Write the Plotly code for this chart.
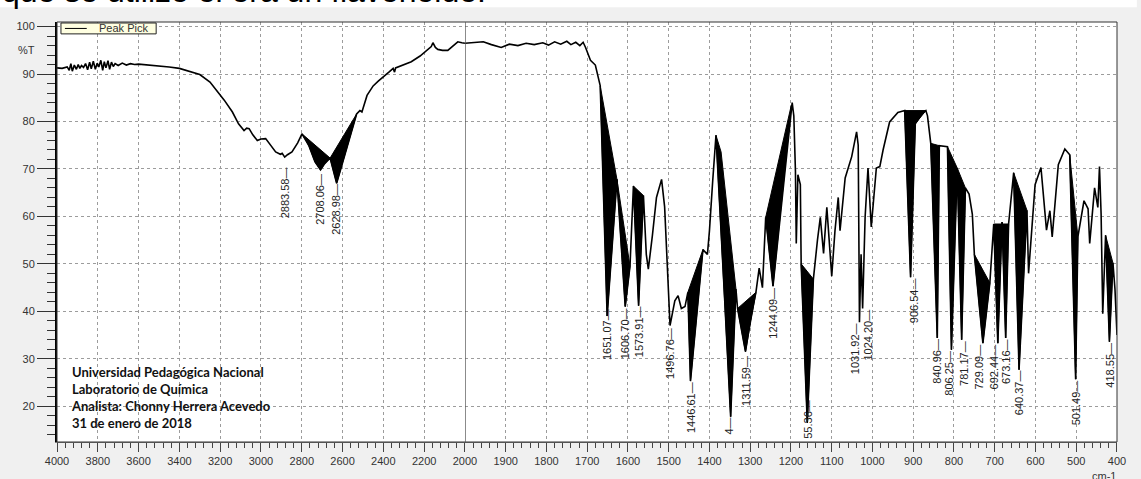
import plotly.graph_objects as go

# ---------------- data ----------------
left_wn = [4000, 3975, 3950, 3940, 3932, 3925, 3915, 3905, 3896, 3888, 3880, 3870, 3860, 3850,
           3840, 3832, 3822, 3812, 3803, 3795, 3785, 3776, 3768, 3760, 3750, 3742, 3733, 3724,
           3715, 3700, 3680, 3660, 3640, 3620, 3600, 3550, 3500, 3450, 3400, 3350, 3300, 3250,
           3220, 3180, 3140, 3110, 3083, 3070, 3058, 3040, 3018, 3000, 2977, 2950, 2928, 2905,
           2896, 2883.58, 2870, 2848, 2820, 2799, 2766, 2735, 2708.06, 2690, 2661, 2628.98,
           2531, 2515, 2505, 2480, 2450, 2425, 2400, 2370, 2352, 2345, 2340, 2300, 2263, 2220,
           2182, 2165, 2157, 2145, 2133, 2110, 2084, 2060, 2035, 2015, 2000]
left_t = [91.3, 91.2, 91.5, 90.8, 92.2, 90.6, 91.9, 91.0, 92.0, 91.2, 91.8, 91.4, 92.2, 90.9,
          92.5, 91.1, 92.7, 91.0, 92.3, 91.5, 92.9, 90.8, 92.6, 91.3, 92.8, 91.0, 92.5, 91.6,
          92.2, 91.8, 92.3, 91.9, 92.2, 92.0, 92.1, 91.9, 91.8, 91.5, 91.2, 90.6, 89.9, 88.3,
          86.7, 84.5, 82.0, 79.5, 78.1, 78.6, 78.5, 77.2, 76.0, 76.3, 76.4, 74.8, 73.6, 73.1,
          73.3, 72.5, 73.0, 73.6, 75.5, 77.4, 75.0, 71.5, 69.8, 71.0, 72.3, 67.0,
          81.6, 82.3, 82.0, 85.5, 87.5, 88.5, 89.5, 90.5, 91.2, 90.4, 91.3, 92.0, 92.6, 93.8,
          95.2, 95.8, 96.6, 95.6, 95.2, 95.0, 95.0, 95.8, 96.8, 96.6, 96.5]

right_wn = [2000, 1980, 1955, 1935, 1911, 1891, 1870, 1850, 1830, 1809, 1795, 1780, 1765, 1750,
            1740, 1728, 1718, 1710, 1704, 1692, 1680, 1668, 1651.07, 1627, 1606.70, 1595, 1586.6,
            1573.91, 1562, 1555, 1550, 1540, 1530, 1517.5, 1510, 1496.76, 1485, 1477, 1469, 1460,
            1453, 1446.61, 1416, 1405, 1400, 1392, 1384, 1363, 1348, 1335, 1331, 1311.59, 1300,
            1286, 1278, 1270, 1262, 1244.09, 1199, 1197, 1193, 1189, 1187, 1183, 1177, 1175, 1160,
            1145, 1135, 1128, 1120, 1112, 1100, 1092, 1084, 1079.6, 1067, 1051, 1039, 1035, 1031.92,
            1028, 1024.20, 1018, 1011, 1003, 990.5, 982, 974, 958, 937.7, 921, 906.54, 895, 880,
            869, 865, 857, 840.96, 836, 816, 806.25, 792, 781.17, 772, 763, 755, 750, 729.09, 712,
            702.5, 692.44, 682, 673.16, 666, 653.6, 640.37, 621, 617, 601, 586.6, 573, 564.7, 559,
            544, 528, 516, 501.49, 496, 481, 471, 467, 455, 447, 443, 439, 435, 428, 418.55, 410,
            405, 400]
right_t = [96.5, 96.7, 96.8, 96.2, 95.6, 96.3, 96.0, 96.5, 96.2, 96.6, 96.1, 96.8, 96.3, 96.9,
           96.2, 96.7, 96.0, 96.7, 95.6, 92.9, 91.9, 87.5, 39.0, 67.8, 41.0, 49.5, 66.4,
           41.2, 64.4, 52.0, 48.9, 56.0, 64.0, 67.8, 62.0, 37.0, 42.2, 43.3, 40.6, 41.0,
           44.0, 25.3, 53.0, 52.0, 57.0, 67.5, 77.1, 43.0, 17.8, 44.7, 40.6, 31.5, 38.0,
           44.0, 49.1, 45.0, 59.8, 45.3, 83.5, 84.0, 81.2, 69.5, 54.3, 68.8, 66.7, 50.0, 16.5,
           46.8, 55.0, 59.8, 52.2, 61.9, 47.4, 57.0, 64.0, 57.0, 68.1, 72.6, 77.8, 75.0, 37.7,
           52.0, 40.6, 60.0, 70.2, 57.8, 70.2, 70.5, 74.0, 79.9, 81.9, 82.3, 47.2, 79.5, 81.5,
           82.3, 81.2, 75.4, 34.4, 74.9, 74.7, 31.9, 70.2, 34.0, 66.0, 64.7, 60.5, 52.0, 33.3, 46.0,
           58.4, 33.3, 58.8, 34.4, 58.4, 69.2, 27.7, 61.3, 48.0, 66.7, 70.3, 57.1, 61.2, 55.7,
           70.9, 74.2, 73.0, 25.7, 55.7, 63.3, 61.6, 54.3, 66.0, 61.9, 70.5, 60.5, 39.5, 56.0, 33.6, 50.2,
           44.7, 35.0]

# dense (black-filled) absorption regions: polygons of (wavenumber, %T)
left_fills = [
    [(2799, 77.4), (2766, 75.0), (2735, 71.5), (2708.06, 69.8), (2690, 71.0), (2661, 72.3)],
    [(2661, 72.3), (2628.98, 67.0), (2531, 81.6)],
]
right_fills = [
    [(1668, 87.5), (1651.07, 39.0), (1627, 67.8)],
    [(1627, 67.8), (1606.70, 41.0), (1595, 49.5)],
    [(1586.6, 66.4), (1573.91, 41.2), (1562, 64.4)],
    [(1453, 44.0), (1446.61, 25.3), (1416, 53.0)],
    [(1384, 77.1), (1363, 43.0), (1348, 17.8), (1335, 44.7), (1371.5, 73.6)],
    [(1331, 40.6), (1311.59, 31.5), (1286, 44.0)],
    [(1262, 59.8), (1244.09, 45.3), (1199, 83.5)],
    [(1175, 50.0), (1160, 16.5), (1145, 46.8)],
    [(921, 82.3), (906.54, 47.2), (895, 79.5), (869, 82.3)],
    [(857, 75.4), (840.96, 34.4), (836, 74.9)],
    [(816, 74.7), (806.25, 31.9), (792, 70.2)],
    [(792, 70.2), (781.17, 34.0), (772, 66.0)],
    [(750, 52.0), (729.09, 33.3), (712, 46.0)],
    [(702.5, 58.4), (692.44, 33.3), (682, 58.8), (673.16, 34.4), (666, 58.4)],
    [(653.6, 69.2), (640.37, 27.7), (621, 61.3)],
    [(516, 73.0), (501.49, 25.7), (496, 55.7)],
    [(428, 56.0), (418.55, 33.6), (410, 50.2)],
]

peak_text = ["2883.58", "2708.06", "2628.98", "1651.07", "1606.70", "1573.91", "1496.76",
             "1446.61", "4", "1311.59", "1244.09", "55.36", "1031.92", "1024.20", "906.54",
             "840.96", "806.25", "781.17", "729.09", "692.44", "673.16", "640.37", "501.49", "418.55"]
peak_wn = [2883.58, 2708.06, 2628.98, 1651.07, 1606.70, 1573.91, 1496.76,
           1446.61, 1351, 1311.59, 1244.09, 1155.36, 1031.92, 1024.20, 906.54,
           840.96, 806.25, 781.17, 729.09, 692.44, 673.16, 640.37, 501.49, 418.55]
peak_label_top = [70.6, 69.2, 67.1, 40.6, 40.8, 41.3, 36.6,
                  25.3, 17.8, 30.9, 45.3, 21.5, 37.7, 40.6, 47.2,
                  34.4, 31.9, 34.0, 33.3, 33.3, 34.4, 27.7, 25.7, 33.6]
peak_dx = [0, 0, 0, 0, 0, 0, 0, 0, 0, 0, 0, -2, -5, 5, 3, 0, -2, 3, -4, -4, 1, 0, 0, 1]

left_ticks = list(range(4000, 1999, -200))
right_ticks = list(range(1900, 399, -100))
y_ticks = list(range(20, 101, 10))

info_lines = ["Universidad Pedagógica Nacional", "Laboratorio de Química",
              "Analista: Chonny Herrera Acevedo", "31 de enero de 2018"]

# ---------------- layout geometry ----------------
W, H = 1141, 479
ML, MR, MT, MB = 57, 15, 22, 33
PW, PH = W - ML - MR, H - MT - MB
split = (468.4 - ML) / PW


def pxx(px):
    return (px - ML) / PW


def pxy(py):
    return (H - MB - py) / PH


fig = go.Figure()

# filled regions
for fills, xa in ((left_fills, "x"), (right_fills, "x2")):
    xs, ys = [], []
    for poly in fills:
        xs += [p[0] for p in poly] + [poly[0][0], None]
        ys += [p[1] for p in poly] + [poly[0][1], None]
    fig.add_trace(go.Scatter(x=xs, y=ys, xaxis=xa, yaxis="y", mode="lines", fill="toself",
                             fillcolor="black", line=dict(color="black", width=1),
                             hoverinfo="skip", showlegend=False))

fig.add_trace(go.Scatter(x=left_wn, y=left_t, xaxis="x", yaxis="y", mode="lines",
                         line=dict(color="black", width=1.6), showlegend=False, name="Peak Pick"))
fig.add_trace(go.Scatter(x=right_wn, y=right_t, xaxis="x2", yaxis="y", mode="lines",
                         line=dict(color="black", width=1.6), showlegend=False, name="Peak Pick"))

tickfont = dict(family="Arial", size=11, color="#333")
grid = dict(showgrid=True, gridcolor="#9c9c9c", griddash="3px,3px", gridwidth=1)

fig.update_layout(
    width=W, height=H,
    margin=dict(l=ML, r=MR, t=MT, b=MB),
    paper_bgcolor="#f0f0f0", plot_bgcolor="white",
    showlegend=False,
    xaxis=dict(domain=[0, split], range=[4000, 2000], anchor="y",
               tickmode="array", tickvals=left_ticks, ticks="outside", ticklen=9,
               tickcolor="#444", tickfont=tickfont,
               minor=dict(tickmode="linear", tick0=0, dtick=40, ticklen=5, tickcolor="#444",
                          ticks="outside", showgrid=False),
               showline=True, linecolor="#777", linewidth=1, zeroline=False, **grid),
    xaxis2=dict(domain=[split, 1], range=[2000, 400], anchor="y",
                tickmode="array", tickvals=right_ticks, ticks="outside", ticklen=9,
                tickcolor="#444", tickfont=tickfont,
                minor=dict(tickmode="linear", tick0=0, dtick=20, ticklen=5, tickcolor="#444",
                           ticks="outside", showgrid=False),
                showline=True, linecolor="#777", linewidth=1, zeroline=False, **grid),
    yaxis=dict(range=[12.46, 100.97], tickmode="array", tickvals=y_ticks, ticks="outside",
               ticklen=18, tickcolor="#333", tickfont=tickfont,
               minor=dict(tickmode="linear", tick0=0, dtick=2, ticklen=8, tickcolor="#333",
                          ticks="outside", showgrid=False),
               showline=True, linecolor="black", linewidth=2, zeroline=False, **grid),
)

shapes = [
    # frame
    dict(type="rect", xref="paper", yref="paper", x0=0, x1=1, y0=0, y1=1,
         line=dict(color="#333", width=1), layer="above"),
    # scale-change line at 2000
    dict(type="line", xref="x2", yref="paper", x0=2000, x1=2000, y0=0, y1=1,
         line=dict(color="#555", width=1.5), layer="above"),
    # white strip of the document above the chart
    dict(type="rect", xref="paper", yref="paper", x0=pxx(-5), x1=pxx(W + 5), y0=pxy(7), y1=pxy(-5),
         fillcolor="white", line=dict(width=0), layer="below"),
    # legend box
    dict(type="rect", xref="paper", yref="paper", x0=pxx(61), x1=pxx(157), y0=pxy(34), y1=pxy(23),
         fillcolor="#ffffe1", line=dict(color="#222", width=1), layer="above"),
    dict(type="line", xref="paper", yref="paper", x0=pxx(65), x1=pxx(87), y0=pxy(28.5), y1=pxy(28.5),
         line=dict(color="black", width=1), layer="above"),
]

annotations = []
for txt, wn, top, dx in zip(peak_text, peak_wn, peak_label_top, peak_dx):
    annotations.append(dict(x=wn, y=top, xref="x" if wn > 2000 else "x2", yref="y",
                            text=txt + "—", textangle=-90, xanchor="center", yanchor="top",
                            showarrow=False, xshift=dx, borderpad=0,
                            font=dict(family="Arial", size=11, color="#222")))

annotations += [
    dict(x=pxx(97), y=pxy(28.5), xref="paper", yref="paper", text="Peak Pick", showarrow=False,
         xanchor="left", yanchor="middle", font=dict(family="Arial", size=11, color="#333")),
    dict(x=pxx(26), y=pxy(50), xref="paper", yref="paper", text="%T", showarrow=False,
         xanchor="center", yanchor="middle", font=dict(family="Arial", size=11, color="#333")),
    dict(x=pxx(1113), y=pxy(472), xref="paper", yref="paper", text="cm-1", showarrow=False,
         xanchor="center", yanchor="top", font=dict(family="Arial", size=11, color="#333")),
    dict(x=pxx(69), y=pxy(365), xref="paper", yref="paper",
         text="<br>".join("<b>" + s + "</b>" for s in info_lines), showarrow=False,
         xanchor="left", yanchor="top", align="left",
         font=dict(family="Lato", size=13, color="#111")),
    dict(x=pxx(0), y=pxy(11), xref="paper", yref="paper",
         text="que se utilizó el era un flavonoide.", showarrow=False,
         xanchor="left", yanchor="bottom", font=dict(family="Arial", size=32, color="black")),
]

fig.update_layout(shapes=shapes, annotations=annotations)
fig.write_html("out.html")
